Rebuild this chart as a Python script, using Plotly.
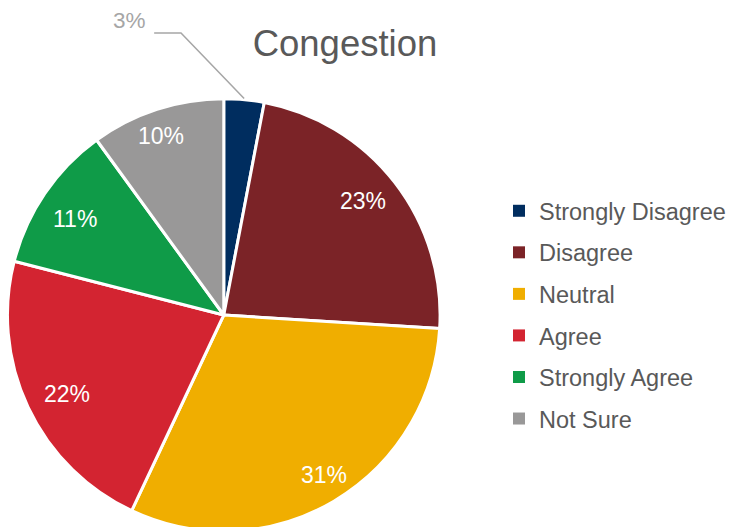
import math
import plotly.graph_objects as go

categories = ["Strongly Disagree", "Disagree", "Neutral", "Agree", "Strongly Agree", "Not Sure"]
values = [3, 23, 31, 22, 11, 10]
colors = ["#002D5F", "#7B2327", "#F0AE00", "#D32431", "#0F9B48", "#999898"]
chart_title = "Congestion"

# label placement (fraction of the radius at which each inside label sits)
label_radius = [1.0, 0.83, 0.87, 0.81, 0.815, 0.875]

W, H = 731, 536          # figure is a little taller than the window: the pie's bottom is clipped
cx, cy, R = 225, 315, 217.5
FONT = "Liberation Sans, Arial, sans-serif"

fig = go.Figure()
fig.add_trace(go.Pie(
    labels=categories, values=values, sort=False, direction="clockwise", rotation=0,
    marker=dict(colors=colors, line=dict(color="white", width=3)),
    textinfo="none", showlegend=False, hoverinfo="label+percent",
    domain=dict(x=[(cx - R) / W, (cx + R) / W], y=[max(0, 1 - (cy + R) / H), 1 - (cy - R) / H]),
))

# legend entries (one group per category so spacing can be controlled)
for i, (name, col) in enumerate(zip(categories, colors)):
    fig.add_trace(go.Scatter(
        x=[None], y=[None], mode="markers", name=name, legendgroup=f"g{i}",
        marker=dict(symbol="square", size=12, color=col), showlegend=True,
    ))

# percentage labels
total = sum(values)
cum = 0
annotations = []
shapes = []
for i, v in enumerate(values):
    mid = (cum + v / 2) / total * 2 * math.pi
    cum += v
    pct = f"{round(v / total * 100)}%"
    if v / total < 0.05:
        sx = cx + R * math.sin(mid)
        sy = cy - R * math.cos(mid)
        ex, ey = 182, 33
        hx = 155
        shapes.append(dict(type="path", xref="paper", yref="paper",
                           path=f"M {sx / W} {1 - sy / H} L {ex / W} {1 - ey / H} L {hx / W} {1 - ey / H}",
                           line=dict(color="#A6A6A6", width=1.5)))
        annotations.append(dict(x=(hx - 6) / W, y=1 - 20 / H, xref="paper", yref="paper",
                                text=pct, showarrow=False, xanchor="right", yanchor="middle",
                                font=dict(family=FONT, size=22.5, color="#A6A6A6")))
    else:
        a = mid - math.radians(1.5)
        r = label_radius[i] * R
        x = cx + r * math.sin(a)
        y = cy - r * math.cos(a)
        annotations.append(dict(x=x / W, y=1 - y / H, xref="paper", yref="paper",
                                text=pct, showarrow=False, xanchor="center", yanchor="middle",
                                font=dict(family=FONT, size=23, color="white")))

fig.update_layout(
    width=W, height=H,
    margin=dict(l=0, r=0, t=0, b=0),
    paper_bgcolor="white", plot_bgcolor="white",
    title=dict(text=chart_title, x=345 / W, xanchor="center", y=1 - 43 / H, yanchor="middle",
               font=dict(family=FONT, size=36.5, color="#595959")),
    xaxis=dict(visible=False, domain=[0.99, 1]), yaxis=dict(visible=False, domain=[0.99, 1]),
    legend=dict(x=502 / W, xanchor="left", y=1 - 189 / H, yanchor="top",
                font=dict(family=FONT, size=23.5, color="#595959"),
                tracegroupgap=8, bgcolor="rgba(0,0,0,0)"),
    annotations=annotations, shapes=shapes,
    showlegend=True,
)

fig.write_html("out.html", config={"displayModeBar": False})

# remove default browser body margin so the figure sits at the page's top-left corner
with open("out.html", "r", encoding="utf-8") as f:
    html = f.read()
html = html.replace("<body>", '<body style="margin:0;padding:0;overflow:hidden">', 1)
with open("out.html", "w", encoding="utf-8") as f:
    f.write(html)
